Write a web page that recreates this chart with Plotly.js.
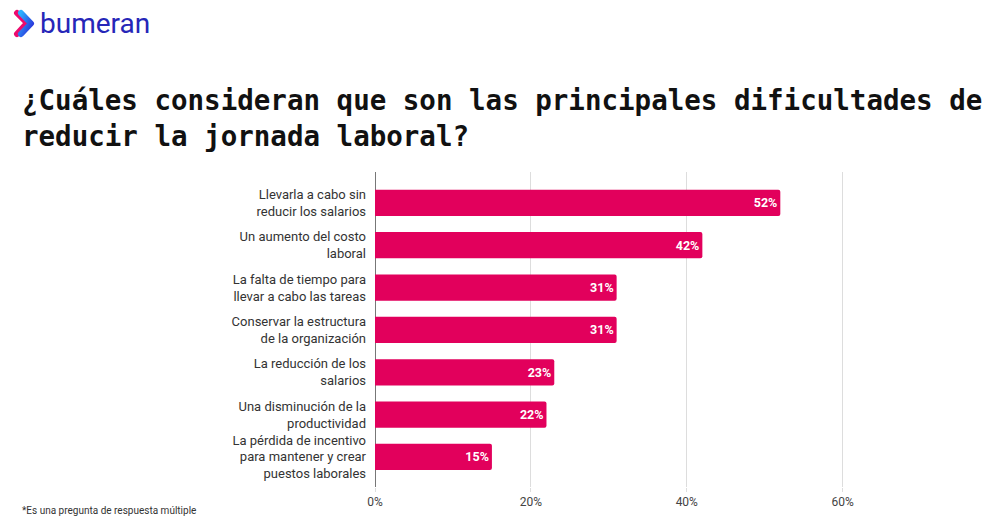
<!DOCTYPE html>
<html>
<head>
<meta charset="utf-8">
<script src="https://cdn.plot.ly/plotly-3.0.1.min.js"></script>
<style>html,body{margin:0;padding:0;background:#fff;}#chart{width:997px;height:523px;}</style>
</head>
<body>
<div id="chart"></div>
<script>
// ---- data ----
const categories = [
  "Llevarla a cabo sin<br>reducir los salarios",
  "Un aumento del costo<br>laboral",
  "La falta de tiempo para<br>llevar a cabo las tareas",
  "Conservar la estructura<br>de la organización",
  "La reducción de los<br>salarios",
  "Una disminución de la<br>productividad",
  "La pérdida de incentivo<br>para mantener y crear<br>puestos laborales"
];
const values = [52, 42, 31, 31, 23, 22, 15];
const valueLabels = ["52%", "42%", "31%", "31%", "23%", "22%", "15%"];
const xTickVals = [0, 20, 40, 60];
const xTickText = ["0%", "20%", "40%", "60%"];
const titleText = "¿Cuáles consideran que son las principales dificultades de<br>reducir la jornada laboral?";
const footnote = "*Es una pregunta de respuesta múltiple";
const brandName = "bumeran";

// ---- layout helpers ----
const FW = 997, FH = 523;
const M = {l: 375, r: 152, t: 172, b: 36};
const PW = FW - M.l - M.r, PH = FH - M.t - M.b;
const px = x => (x - M.l) / PW;
const py = y => (FH - M.b - y) / PH;

const idx = categories.map((_, i) => i);

const trace = {
  type: 'bar',
  orientation: 'h',
  x: values,
  y: idx,
  text: valueLabels,
  textposition: 'inside',
  insidetextanchor: 'end',
  textfont: {family: 'Roboto, Arial, sans-serif', size: 12.5, color: '#ffffff', weight: 'bold'},
  marker: {color: '#E2005C', cornerradius: 2},
  width: 0.62,
  hoverinfo: 'none',
  cliponaxis: false
};

const chevron = '<svg xmlns="http://www.w3.org/2000/svg" width="24" height="30" viewBox="0 0 24 30">' +
  '<defs><linearGradient id="g" x1="0" y1="0" x2="1" y2="1"><stop offset="0" stop-color="#2bb0ff"/><stop offset="1" stop-color="#2a2ad8"/></linearGradient></defs>' +
  '<polyline points="4,4 14,14 4,25" fill="none" stroke="#ec0b6e" stroke-width="6" stroke-linecap="round" stroke-linejoin="round"/>' +
  '<polyline points="8,4 18,14.5 8,25" fill="none" stroke="url(#g)" stroke-width="6" stroke-linecap="round" stroke-linejoin="round"/>' +
  '</svg>';

const layout = {
  width: FW, height: FH,
  margin: M,
  paper_bgcolor: '#ffffff',
  plot_bgcolor: '#ffffff',
  showlegend: false,
  font: {family: 'Roboto, Arial, sans-serif', color: '#333333'},
  title: {
    text: titleText,
    font: {family: '"DejaVu Sans Mono", monospace', size: 27.5, color: '#111111', weight: 'bold'},
    x: 22 / FW, xanchor: 'left', xref: 'container',
    y: 1 - 110 / FH, yanchor: 'middle', yref: 'container'
  },
  xaxis: {
    range: [0, 60.3],
    tickvals: xTickVals,
    ticktext: xTickText,
    showgrid: true,
    gridcolor: '#dddddd',
    gridwidth: 1,
    zeroline: true,
    zerolinecolor: '#777777',
    zerolinewidth: 1,
    ticks: 'outside',
    ticklen: 4,
    tickcolor: '#dddddd',
    showline: false,
    tickfont: {size: 12, color: '#444444'},
    fixedrange: true
  },
  yaxis: {
    range: [6.71, -0.73],
    tickvals: idx,
    ticktext: categories,
    showgrid: false,
    zeroline: false,
    showline: false,
    ticks: '',
    ticklabelstandoff: 8,
    tickfont: {size: 13, color: '#333333'},
    fixedrange: true
  },
  images: [{
    source: 'data:image/svg+xml;charset=utf-8,' + encodeURIComponent(chevron),
    xref: 'paper', yref: 'paper',
    x: px(13), y: py(9),
    sizex: 24 / PW, sizey: 30 / PH,
    xanchor: 'left', yanchor: 'top',
    sizing: 'stretch', layer: 'above'
  }],
  annotations: [
    {
      text: brandName,
      xref: 'paper', yref: 'paper',
      x: px(38), y: py(24),
      xanchor: 'left', yanchor: 'middle',
      showarrow: false,
      font: {family: 'Roboto, Arial, sans-serif', size: 28, color: '#2626b8'}
    },
    {
      text: footnote,
      xref: 'paper', yref: 'paper',
      x: px(20), y: py(510),
      xanchor: 'left', yanchor: 'middle',
      showarrow: false,
      font: {family: 'Roboto, Arial, sans-serif', size: 10, color: '#333333'}
    }
  ]
};

Plotly.newPlot('chart', [trace], layout, {displayModeBar: false, staticPlot: true});
</script>
</body>
</html>
